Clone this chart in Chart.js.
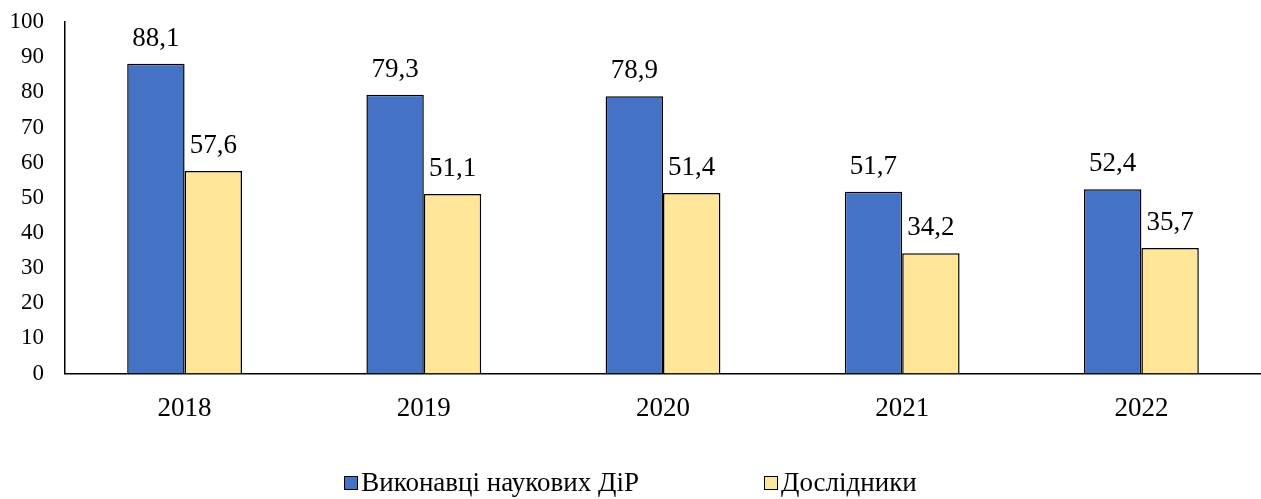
<!DOCTYPE html>
<html>
<head>
<meta charset="utf-8">
<script src="https://cdn.jsdelivr.net/npm/chart.js@4"></script>
<style>
  html, body { margin: 0; padding: 0; background: #fff; }
  #wrap { position: relative; width: 1261px; height: 499px; }
  #legend {
    position: absolute; left: 0; top: 467px; width: 1261px;
    display: flex; justify-content: center; align-items: center;
    font-family: "Liberation Serif", "Times New Roman", serif; font-size: 27px; color: #000;
  }
  .item { display: flex; align-items: center; }
  .item + .item { margin-left: 125px; }
  .box { width: 12px; height: 12px; border: 1.5px solid #000; margin-right: 3px; }
</style>
</head>
<body>
<div id="wrap">
  <canvas id="myChart" width="1261" height="499"></canvas>
  <div id="legend"></div>
</div>
<script>
const years = ["2018", "2019", "2020", "2021", "2022"];
const performers = [88.1, 79.3, 78.9, 51.7, 52.4];
const researchers = [57.6, 51.1, 51.4, 34.2, 35.7];
const seriesNames = ["Виконавці наукових ДіР", "Дослідники"];
const yTicks = [0, 10, 20, 30, 40, 50, 60, 70, 80, 90, 100];

const colors = ["#4472C4", "#FFE699"];
const serif = "'Liberation Serif', 'Times New Roman', serif";

// values above the bars, decimal comma as in the source
const valueLabels = {
  id: "valueLabels",
  afterDatasetsDraw(chart) {
    const ctx = chart.ctx;
    ctx.save();
    ctx.font = "27px " + serif;
    ctx.fillStyle = "#000";
    ctx.textAlign = "center";
    ctx.textBaseline = "alphabetic";
    chart.data.datasets.forEach((ds, i) => {
      chart.getDatasetMeta(i).data.forEach((bar, j) => {
        ctx.fillText(String(ds.data[j]).replace(".", ","), bar.x, bar.y - 18);
      });
    });
    ctx.restore();
  }
};

const ctx = document.getElementById("myChart").getContext("2d");
const myChart = new Chart(ctx, {
  type: "bar",
  data: {
    labels: years,
    datasets: [
      { label: seriesNames[0], data: performers, backgroundColor: colors[0], borderColor: "#000", borderWidth: 1.5 },
      { label: seriesNames[1], data: researchers, backgroundColor: colors[1], borderColor: "#000", borderWidth: 1.5 },
    ],
  },
  options: {
    responsive: false,
    animation: false,
    layout: { autoPadding: false, padding: { top: 22, right: 0, bottom: 55, left: 0 } },
    datasets: { bar: { categoryPercentage: 0.48, barPercentage: 1 } },
    plugins: { legend: { display: false }, tooltip: { enabled: false } },
    scales: {
      x: {
        grid: { display: false, drawTicks: false },
        border: { color: "#000", width: 1.5 },
        ticks: { color: "#000", font: { family: serif, size: 27 }, padding: 19 },
      },
      y: {
        min: 0,
        max: 100,
        afterBuildTicks(axis) { axis.ticks = yTicks.map(v => ({ value: v })); },
        afterFit(axis) {
          axis.width = 65;
          axis.paddingTop = 0;
          axis.paddingBottom = 0;
        },
        grid: { display: false, drawTicks: false },
        border: { color: "#000", width: 1.5 },
        ticks: { color: "#000", font: { family: serif, size: 23 }, padding: 21 },
      },
    },
  },
  plugins: [valueLabels],
});

const legend = document.getElementById("legend");
seriesNames.forEach((name, i) => {
  const item = document.createElement("div");
  item.className = "item";
  const box = document.createElement("span");
  box.className = "box";
  box.style.background = colors[i];
  const txt = document.createElement("span");
  txt.textContent = name;
  item.appendChild(box);
  item.appendChild(txt);
  legend.appendChild(item);
});
</script>
</body>
</html>
